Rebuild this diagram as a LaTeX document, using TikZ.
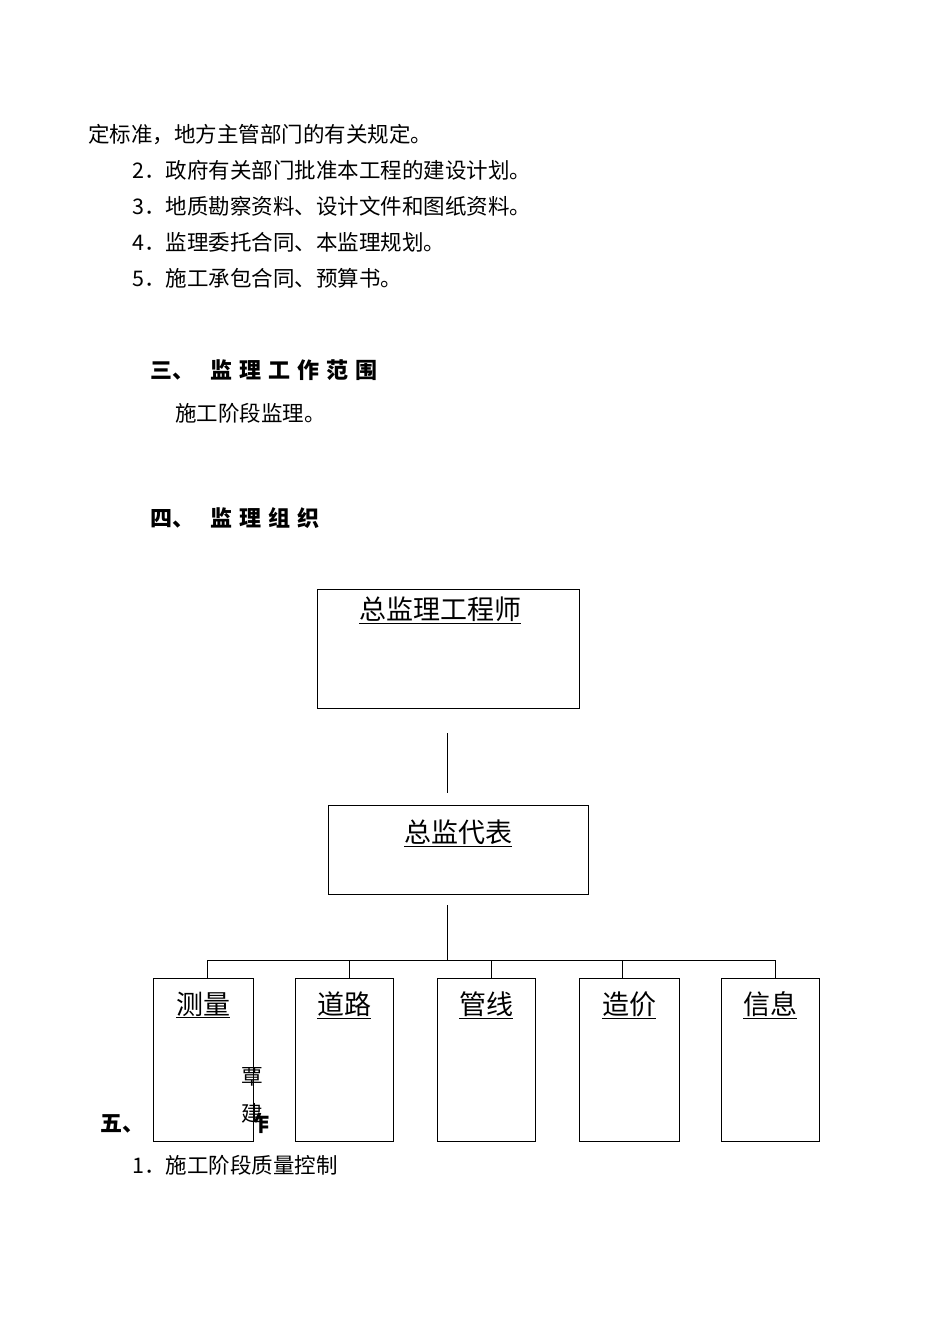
\documentclass[tikz,border=0pt]{standalone}
\usepackage{fontspec}
\setmainfont{Noto Sans CJK SC}
\begin{document}
\begin{tikzpicture}[x=1pt,y=-1pt,
  t/.style={anchor=west,inner sep=0,font=\fontsize{21.5}{21.5}\selectfont},
  h/.style={anchor=west,inner sep=0,font=\fontsize{22}{22}\selectfont\bfseries},
  bx/.style={draw,fill=white,line width=0.8pt},
  lab/.style={inner sep=0,font=\fontsize{27}{27}\selectfont},
  ln/.style={line width=0.8pt}]
\useasboundingbox (0,0) rectangle (950,1342);
\node[t] (l1) at (88,135) {定标准，地方主管部门的有关规定。};
\node[t] (l2) at (132,170) {2．政府有关部门批准本工程的建设计划。};
\node[t] (l3) at (132,206) {3．地质勘察资料、设计文件和图纸资料。};
\node[t] (l4) at (132,242) {4．监理委托合同、本监理规划。};
\node[t] (l5) at (132,278) {5．施工承包合同、预算书。};
\node[h] (h3) at (150,370) {三、\hspace{16pt}监\hspace{7pt}理\hspace{7pt}工\hspace{7pt}作\hspace{7pt}范\hspace{7pt}围};
\node[t] (s3) at (175,413) {施工阶段监理。};
\node[h] (h4) at (150,518) {四、\hspace{16pt}监\hspace{7pt}理\hspace{7pt}组\hspace{7pt}织};
\node[h] (h5) at (100,1123) {五、\hspace{16pt}监\hspace{7pt}理\hspace{7pt}工\hspace{7pt}作};
\node[t] (l6) at (132,1165) {1．施工阶段质量控制};
% boxes
\node[bx,minimum width=262pt,minimum height=119pt,inner sep=0] (A) at (448,648.5) {};
\node[lab] (At) at (440,610) {\underline{总监理工程师}};
\node[bx,minimum width=260pt,minimum height=89pt,inner sep=0] (B) at (458,849.5) {};
\node[lab] (Bt) at (458,833) {\underline{总监代表}};
\coordinate (a1) at (447,733); \coordinate (a2) at (447,793);
\draw[ln] (a1) -- (a2);
\coordinate (b1) at (447,905); \coordinate (b2) at (447,960);
\draw[ln] (b1) -- (b2);
\coordinate (hl) at (207,960); \coordinate (hr) at (775,960);
\draw[ln] (hl) -- (hr);
\foreach \n/\cx/\w/\dx/\txt in {c1/203/100/207/测量,c2/344/98/349/道路,c3/486/98/491/管线,c4/629/100/622/造价,c5/770/98/775/信息}{
  \node[bx,minimum width=\w pt,minimum height=163pt,inner sep=0] (\n) at (\cx,1059.5) {};
  \node[lab] (\n t) at (\cx,1005) {\underline{\txt}};
  \coordinate (\n d) at (\dx,960);
  \draw[ln] (\n d) -- (\n.north -| \n d);
}
\node[t] (q1) at (241,1077) {覃};
\node[t] (q2) at (241,1113) {建};
\end{tikzpicture}
\end{document}
